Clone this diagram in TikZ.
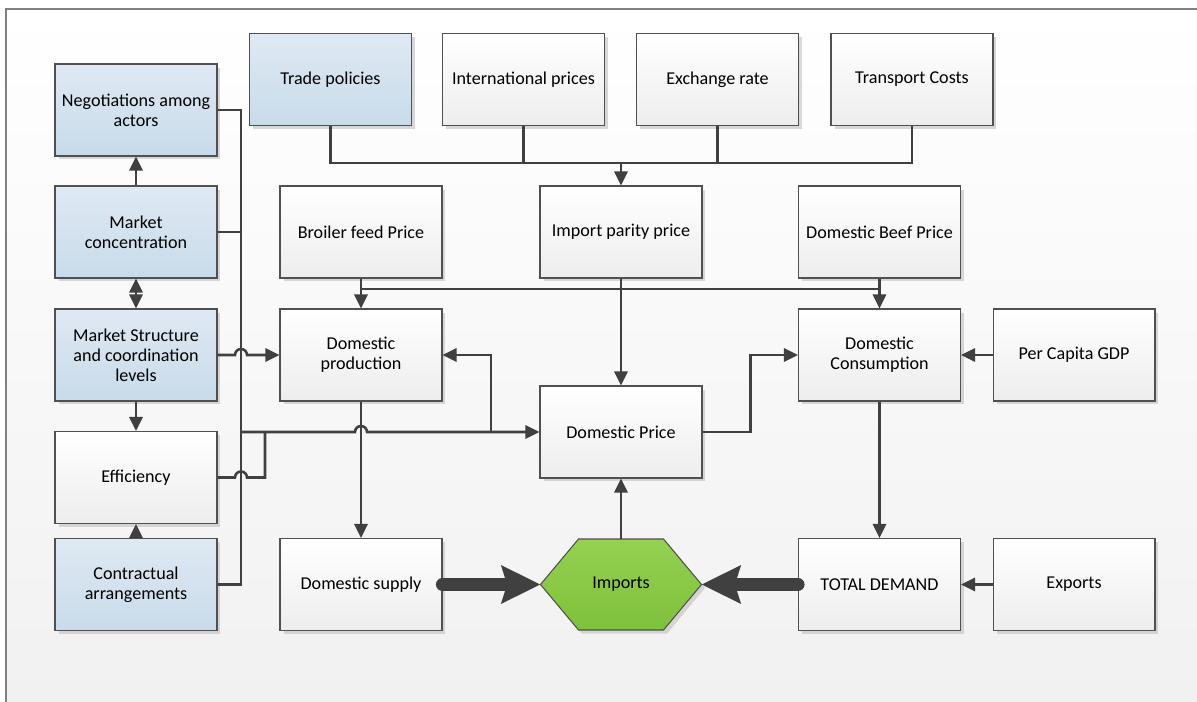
\documentclass[tikz,border=0pt]{standalone}
\usepackage{fontspec}
\setmainfont{Carlito}
\usetikzlibrary{arrows.meta,shadows,calc}

\definecolor{linegray}{HTML}{404040}
\definecolor{edgegray}{HTML}{505050}
\definecolor{bluetop}{HTML}{DFE9F3}
\definecolor{bluebot}{HTML}{C8DBEA}
\definecolor{graybot}{HTML}{EDEDED}
\definecolor{greentop}{HTML}{94D152}
\definecolor{greenbot}{HTML}{7EC13A}
\definecolor{pagebot}{HTML}{F1F1F1}

\begin{document}
\begin{tikzpicture}[
          x=0.02cm, y=-0.02cm,
          every node/.style={
            font=\fontsize{10.3}{11.3}\selectfont,
            align=center,
          },
          box/.style={
            draw=edgegray,
            line width=0.6pt,
            rectangle,
            top color=white,
            bottom color=graybot,
            minimum width=3.24cm,
            minimum height=1.84cm,
            inner sep=2pt,
            drop shadow={shadow xshift=0.07cm, shadow yshift=-0.07cm, fill=black!25, opacity=0.6},
          },
          bluebox/.style={box, top color=bluetop, bottom color=bluebot},
          hexshape/.style={
            draw=edgegray,
            line width=0.6pt,
            top color=greentop,
            bottom color=greenbot,
            drop shadow={shadow xshift=0.07cm, shadow yshift=-0.07cm, fill=black!25, opacity=0.6},
          },
          hexlabel/.style={minimum width=3.22cm, minimum height=1.82cm, inner sep=0pt, outer sep=0pt},
          wire/.style={draw=linegray, line width=1.45pt},
          wirearrow/.style={wire, -{Triangle[length=8pt,width=7.5pt]}},
          bigarrow/.style={draw=linegray, line width=7.5pt, line cap=round, -{Stealth[length=22pt,width=21pt,inset=3pt]}},
          tip/.tip={Triangle[length=8pt,width=7.5pt]},
        ]
        \useasboundingbox (0,0) rectangle (1197,702);
        \fill[top color=white, bottom color=pagebot] (6,9) rectangle (1197,702);
        \draw[gray, line width=0.6pt] (6,702) -- (6,9) -- (1197,9);

        \node[bluebox] (neg) at (136,110) {Negotiations among\\actors};
        \node[bluebox] (conc) at (136,232) {Market\\concentration};
        \node[bluebox] (struct) at (136,355) {Market Structure\\and coordination\\levels};
        \node[box] (eff) at (136,477.5) {Efficiency};
        \node[bluebox] (contr) at (136,584.5) {Contractual\\arrangements};

        \node[bluebox] (trade) at (330.5,79.5) {Trade policies};
        \node[box] (intl) at (523.5,79.5) {International prices};
        \node[box] (exch) at (717.5,79.5) {Exchange rate};
        \node[box] (transp) at (912,79.5) {Transport Costs};

        \node[box] (feedprice) at (361,232) {Broiler feed Price};
        \node[box] (parity) at (621,232) {Import parity price};
        \node[box] (beef) at (879.5,232) {Domestic Beef Price};
        \node[box] (prod) at (361,355) {Domestic\\production};
        \node[box] (cons) at (879.5,355) {Domestic\\Consumption};
        \node[box] (gdp) at (1074,355) {Per Capita GDP};
        \node[box] (price) at (621,432) {Domestic Price};
        \node[box] (supply) at (361,584.5) {Domestic supply};
        \node[box] (demand) at (879.5,584.5) {TOTAL DEMAND};
        \node[box] (exports) at (1074,584.5) {Exports};

        \coordinate (impc) at (621,584.5);
        \path[hexshape] ($(impc)+(-80.5,0)$) -- ($(impc)+(-42.5,-45.5)$) -- ($(impc)+(42.5,-45.5)$)
          -- ($(impc)+(80.5,0)$) -- ($(impc)+(42.5,45.5)$) -- ($(impc)+(-42.5,45.5)$) -- cycle;
        \node[hexlabel] (imports) at (impc) {Imports};

        \coordinate (bus) at (241,0);
        \coordinate (effbus) at (265,0);
        \coordinate (fork) at (491,0);
        \coordinate (topbus) at (0,163);
        \coordinate (midbus) at (0,289);

        \draw[wirearrow] (conc.north) -- (neg.south);
        \draw[wire, tip-tip] (conc.south) -- (struct.north);
        \draw[wirearrow] (struct.south) -- (eff.north);
        \draw[wirearrow] (contr.north) -- (eff.south);

        \draw[wire] (neg.east) -- (neg.east -| bus) -- (contr.east -| bus) -- (contr.east);
        \draw[wire] (conc.east) -- (conc.east -| bus);
        \draw[wirearrow] (struct.east) -- ($(struct.east -| bus)+(-0.12cm,0)$) arc[start angle=180, end angle=0, radius=0.12cm] -- (prod.west);
        \draw[wire] (eff.east) -- ($(eff.east -| bus)+(-0.12cm,0)$) arc[start angle=180, end angle=0, radius=0.12cm] -- (eff.east -| effbus) -- (effbus |- price.west);
        \draw[wirearrow] (bus |- price.west) -- ($(prod.south |- price.west)+(-0.12cm,0)$) arc[start angle=180, end angle=0, radius=0.12cm] -- (price.west);
        \draw[wirearrow] (fork |- price.west) |- (prod.east);

        \draw[wire] (trade.south) -- (trade.south |- topbus) -- (transp.south |- topbus) -- (transp.south);
        \draw[wire] (intl.south) -- (intl.south |- topbus);
        \draw[wire] (exch.south) -- (exch.south |- topbus);
        \draw[wirearrow] (parity.north |- topbus) -- (parity.north);

        \draw[wirearrow] (feedprice.south) -- (prod.north);
        \draw[wirearrow] (beef.south) -- (cons.north);
        \draw[wire] (feedprice.south |- midbus) -- (beef.south |- midbus);
        \draw[wirearrow] (parity.south) -- (price.north);
        \draw[wirearrow] (price.east) -- ++(48,0) |- (cons.west);
        \draw[wirearrow] (gdp.west) -- (cons.east);
        \draw[wirearrow] (cons.south) -- (demand.north);
        \draw[wirearrow] (exports.west) -- (demand.east);
        \draw[wirearrow] (prod.south) -- (supply.north);
        \draw[wirearrow] (imports.north) -- (price.south);
        \draw[bigarrow] (supply.east) -- (imports.west);
        \draw[bigarrow] (demand.west) -- (imports.east);
        \end{tikzpicture}
\end{document}
